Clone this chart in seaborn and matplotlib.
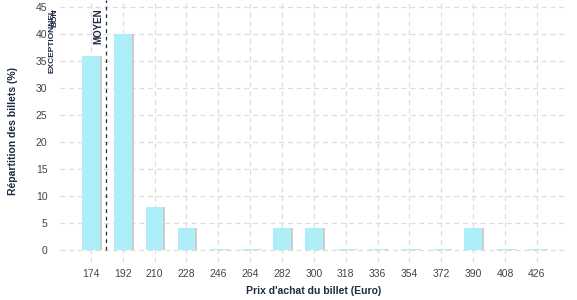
import matplotlib
matplotlib.use("Agg")
import matplotlib.pyplot as plt
import matplotlib.patheffects as pe
import pandas as pd
import seaborn as sns

prix = [174, 192, 210, 228, 246, 264, 282, 300, 318, 336, 354, 372, 390, 408, 426]
repartition = [36, 40, 8, 4, 0.2, 0.2, 4, 4, 0.2, 0.2, 0.2, 0.2, 4, 0.2, 0.2]
y_ticks = [0, 5, 10, 15, 20, 25, 30, 35, 40, 45]

NAVY = "#1f2a44"
GRID = "#dddddd"
BAR = "#adeef8"

sns.set_style("white")
plt.rcParams["font.family"] = ["Liberation Sans", "DejaVu Sans"]

df = pd.DataFrame({"prix": [str(p) for p in prix], "pct": repartition})

fig, ax = plt.subplots(figsize=(5.77, 3.0), dpi=100)
fig.subplots_adjust(left=0.104, right=0.983, top=1.0, bottom=0.127)

sns.barplot(data=df, x="prix", y="pct", order=df["prix"], color=BAR,
            saturation=1, width=0.55, linewidth=0, ax=ax, zorder=3)
for bar in ax.patches:
    bar.set_path_effects([pe.SimplePatchShadow(offset=(1.5, 0), shadow_rgbFace="#cccccc", alpha=1),
                          pe.Normal()])

ax.set_xlim(-0.97, 14.95)
ax.set_ylim(-2.2, 46.3)
ax.set_yticks(y_ticks)

ax.grid(True, axis="both", color=GRID, linestyle=(0, (4, 3)), linewidth=0.9, zorder=0)
ax.set_axisbelow(True)
for s in ax.spines.values():
    s.set_visible(False)
ax.tick_params(axis="both", length=0, labelsize=7.5, colors="#444444")
ax.tick_params(axis="x", pad=5)
ax.tick_params(axis="y", pad=9)

ax.set_xlabel("Prix d'achat du billet (Euro)", fontsize=7.5, fontweight="bold", color=NAVY, labelpad=5)
ax.set_ylabel("Répartition des billets (%)", fontsize=7.5, fontweight="bold", color=NAVY, labelpad=13)

# mean price marker
ax.plot([0.47, 0.47], [0, 46.3], color=NAVY, linestyle=(0, (3, 3)), linewidth=0.9, zorder=4)
ax.text(0.24, 44.8, "MOYEN", rotation=90, ha="center", va="top", fontsize=7,
        fontweight="bold", color=NAVY, zorder=5)
ax.text(-1.23, 44.8, "EXCEPTIONNEL", rotation=90, ha="center", va="top", fontsize=6,
        fontweight="bold", color=NAVY, clip_on=False)
ax.text(-1.13, 44.8, "BON", rotation=90, ha="center", va="top", fontsize=6,
        fontweight="bold", color=NAVY, clip_on=False)

fig.savefig("out.png", dpi=100)
